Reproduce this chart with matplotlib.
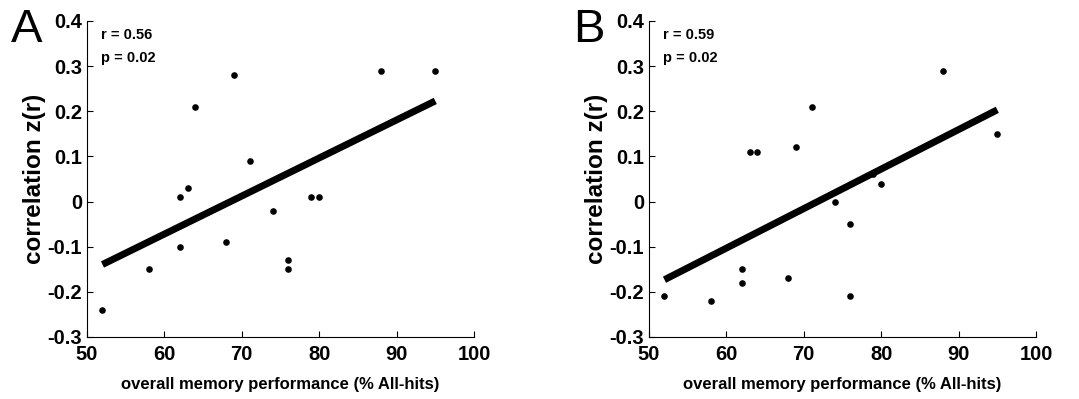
import numpy as np
import matplotlib.pyplot as plt

plt.rcParams['font.family'] = ['Liberation Sans', 'DejaVu Sans']

# performance (% All-hits) per subject
perf_a = [52, 58, 62, 62, 63, 64, 68, 69, 71, 74, 76, 76, 79, 80, 88, 95]
zr_a = [-0.24, -0.15, 0.01, -0.10, 0.03, 0.21, -0.09, 0.28, 0.09, -0.02,
        -0.13, -0.15, 0.01, 0.01, 0.29, 0.29]

perf_b = [52, 58, 62, 62, 63, 64, 68, 69, 71, 74, 76, 76, 79, 80, 88, 95]
zr_b = [-0.21, -0.22, -0.15, -0.18, 0.11, 0.11, -0.17, 0.12, 0.21, 0.00,
        -0.05, -0.21, 0.06, 0.04, 0.29, 0.15]

stats_a = ("0.56", "0.02")
stats_b = ("0.59", "0.02")

xticks = [50, 60, 70, 80, 90, 100]
yticks = [-0.3, -0.2, -0.1, 0, 0.1, 0.2, 0.3, 0.4]
ytick_labels = ["-0.3", "-0.2", "-0.1", "0", "0.1", "0.2", "0.3", "0.4"]


def painel(ax, x, y, stats, letra):
    x = np.array(x)
    y = np.array(y)
    ax.scatter(x, y, s=14, color="black", zorder=3)

    # linha de regressao
    a, b = np.polyfit(x, y, 1)
    xs = np.array([x.min(), x.max()])
    ax.plot(xs, a * xs + b, color="black", linewidth=5, solid_capstyle="butt")

    ax.set_xlim(50, 100)
    ax.set_ylim(-0.3, 0.4)
    ax.set_xticks(xticks)
    ax.set_yticks(yticks)
    ax.set_yticklabels(ytick_labels)
    ax.tick_params(direction="in", length=4, labelsize=14.5)
    ax.tick_params(axis="x", pad=6)
    for lab in ax.get_xticklabels() + ax.get_yticklabels():
        lab.set_fontweight("bold")
    ax.spines["top"].set_visible(False)
    ax.spines["right"].set_visible(False)

    ax.set_ylabel("correlation z(r)", fontsize=17.5, fontweight="bold")
    ax.yaxis.set_label_coords(-0.105, 0.5)
    ax.set_xlabel("overall memory performance (% All-hits)", fontsize=12,
                  fontweight="bold", labelpad=9)

    ax.text(0.035, 0.956, "r = " + stats[0], transform=ax.transAxes,
            fontsize=10.5, fontweight="bold", va="center")
    ax.text(0.035, 0.883, "p = " + stats[1], transform=ax.transAxes,
            fontsize=10.5, fontweight="bold", va="center")
    ax.text(-0.155, 0.971, letra, transform=ax.transAxes, fontsize=34,
            va="center", ha="center")


fig = plt.figure(figsize=(10.79, 3.99), dpi=100)
ax1 = fig.add_axes([87 / 1079, 1 - 337 / 399, 387 / 1079, 316 / 399])
ax2 = fig.add_axes([649 / 1079, 1 - 337 / 399, 387 / 1079, 316 / 399])

painel(ax1, perf_a, zr_a, stats_a, "A")
painel(ax2, perf_b, zr_b, stats_b, "B")

fig.savefig("out.png", dpi=100)
